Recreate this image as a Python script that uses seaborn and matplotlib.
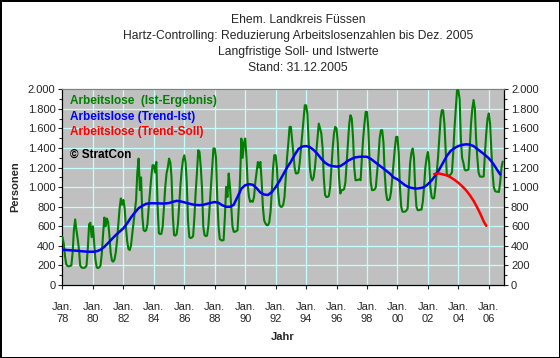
import pandas as pd
import matplotlib
matplotlib.use('Agg')
import matplotlib.pyplot as plt
from matplotlib.ticker import FuncFormatter, MultipleLocator
import seaborn as sns

# Monatswerte Arbeitslose (Ist-Ergebnis), Jan. 1978 bis Dez. 2006, eine Zeile pro Jahr
ist_werte = [
    490, 420, 300, 210, 195, 190, 195, 200, 330, 560, 670, 560,
    470, 360, 200, 180, 175, 175, 180, 200, 380, 620, 636, 490,
    600, 420, 260, 180, 173, 180, 200, 320, 520, 690, 600, 680,
    640, 500, 330, 250, 238, 260, 330, 450, 620, 780, 884, 820,
    870, 780, 600, 450, 370, 357, 400, 520, 650, 760, 867, 1150,
    1292, 970, 1100, 700, 560, 550, 560, 620, 800, 950, 1100, 1224,
    1224, 1150, 1258, 800, 530, 520, 525, 600, 800, 1000, 1140, 1200,
    1292, 1250, 1100, 700, 510, 505, 520, 620, 820, 1020, 1180, 1280,
    1326, 1250, 1050, 650, 490, 480, 485, 500, 700, 950, 1150, 1377,
    1360, 1200, 1000, 600, 510, 500, 505, 600, 800, 1000, 1200, 1395,
    1395, 1300, 900, 600, 470, 459, 455, 460, 700, 1003, 900, 1139,
    1000, 800, 600, 544, 544, 550, 560, 800, 1100, 1497, 1300, 1450,
    1497, 1300, 1037, 900, 850, 860, 850, 900, 1050, 1150, 1258, 1200,
    1258, 1050, 800, 660, 630, 612, 612, 640, 750, 950, 1200, 1327,
    1327, 1200, 950, 820, 800, 800, 820, 900, 1100, 1300, 1450, 1616,
    1616, 1480, 1350, 1200, 1140, 1140, 1150, 1250, 1400, 1550, 1700, 1837,
    1837, 1750, 1500, 1200, 1100, 1070, 1100, 1200, 1350, 1500, 1650, 1600,
    1550, 1400, 1100, 920, 900, 900, 910, 1000, 1200, 1400, 1550, 1616,
    1600, 1450, 1100, 935, 970, 970, 980, 1050, 1250, 1450, 1650, 1735,
    1700, 1500, 1200, 1071, 1071, 1075, 1080, 1071, 1300, 1500, 1650, 1769,
    1769, 1600, 1300, 1050, 970, 970, 975, 1000, 1150, 1300, 1500, 1582,
    1582, 1450, 1150, 950, 870, 867, 880, 950, 1100, 1250, 1400, 1514,
    1514, 1350, 1000, 800, 750, 748, 750, 760, 780, 1000, 1250, 1350,
    1395, 1300, 1000, 800, 765, 765, 770, 770, 850, 1000, 1200, 1300,
    1360, 1250, 1000, 900, 884, 890, 1000, 1150, 1300, 1500, 1700, 1786,
    1786, 1650, 1400, 1122, 1120, 1120, 1130, 1150, 1350, 1600, 1800, 1990,
    1990, 1900, 1500, 1300, 1250, 1180, 1170, 1176, 1180, 1400, 1650, 1800,
    1891, 1800, 1500, 1300, 1150, 1110, 1107, 1107, 1110, 1350, 1550, 1700,
    1754, 1650, 1400, 1150, 1000, 960, 954, 954, 950, 1050, 1200, 1261,
]

# Trend-Ist, Quartalswerte (Jan., Apr., Jul., Okt.) 1978 bis 2006
trend_ist = [
    360, 358, 355, 352,
    350, 345, 342, 340,
    340, 345, 360, 390,
    430, 470, 510, 545,
    580, 630, 690, 740,
    785, 810, 830, 835,
    835, 835, 833, 833,
    838, 850, 860, 855,
    845, 835, 825, 818,
    816, 820, 830, 840,
    848, 840, 815, 800,
    800, 820, 900, 985,
    1020, 1030, 1025, 990,
    945, 925, 920, 950,
    1000, 1060, 1130, 1200,
    1260, 1330, 1390, 1415,
    1420, 1410, 1380, 1340,
    1290, 1250, 1225, 1215,
    1210, 1215, 1240, 1270,
    1290, 1305, 1310, 1312,
    1310, 1290, 1260, 1230,
    1200, 1170, 1140, 1100,
    1080, 1050, 1020, 1000,
    990, 985, 990, 1000,
    1030, 1070, 1120, 1180,
    1250, 1320, 1370, 1400,
    1420, 1432, 1438, 1435,
    1420, 1390, 1360, 1330,
    1295, 1250, 1190, 1130,
]

# Trend-Soll ab Mitte 2002
soll_datum = ['2002-06-01', '2002-10-01', '2003-01-01', '2003-04-01', '2003-07-01',
              '2003-10-01', '2004-01-01', '2004-04-01', '2004-07-01', '2004-10-01',
              '2005-01-01', '2005-04-01', '2005-07-01', '2005-09-01', '2005-11-01']
trend_soll = [1134, 1140, 1130, 1120, 1100, 1075, 1045, 1010, 970, 920,
              860, 790, 710, 650, 605]

titel = ['Ehem. Landkreis Füssen',
         'Hartz-Controlling: Reduzierung Arbeitslosenzahlen bis Dez. 2005',
         'Langfristige Soll- und Istwerte',
         'Stand: 31.12.2005']

sns.set_style('white')
plt.rcParams['font.family'] = ['Liberation Sans', 'DejaVu Sans']
plt.rcParams['font.size'] = 8

monate = pd.date_range('1978-01-01', periods=len(ist_werte), freq='MS')
quartale = pd.date_range('1978-01-01', periods=len(trend_ist), freq='QS-JAN')
soll_monate = pd.to_datetime(soll_datum)

fig = plt.figure(figsize=(5.6, 3.58), dpi=100)
fig.patch.set_facecolor('white')
fig.patch.set_edgecolor('black')
fig.patch.set_linewidth(2)

ax = fig.add_axes([0.1116, 0.2039, 0.7884, 0.5466])
ax.set_facecolor('#c0c0c0')

sns.lineplot(x=monate, y=ist_werte, ax=ax, color='#008000', lw=1.5, zorder=3)
sns.lineplot(x=quartale, y=trend_ist, ax=ax, color='#0000ff', lw=1.8, zorder=4)
sns.lineplot(x=soll_monate, y=trend_soll, ax=ax, color='#ff0000', lw=1.8, zorder=5)

# Achsen
ax.set_xlim(pd.Timestamp('1978-01-01'), pd.Timestamp('2007-01-01'))
ax.set_ylim(0, 2000)
xticks = pd.date_range('1978-01-01', '2006-01-01', freq='2YS')
ax.set_xticks(xticks)
ax.set_xticklabels([f'Jan.\n{d:%y}' for d in xticks], linespacing=1.35)
ax.yaxis.set_major_locator(MultipleLocator(200))
ax.yaxis.set_minor_locator(MultipleLocator(100))
ax.yaxis.set_major_formatter(FuncFormatter(lambda v, p: f'{int(v):,}'.replace(',', '.')))

ax.grid(True, which='major', color='#c4ffff', lw=0.9, zorder=0)
ax.set_axisbelow(True)
ax.tick_params(axis='y', which='major', direction='out', length=3, width=0.8,
               left=True, right=True, labelleft=True, labelright=True, pad=2, labelsize=8)
ax.tick_params(axis='y', which='minor', direction='out', length=2, width=0.8,
               left=True, right=True)
ax.tick_params(axis='x', which='major', direction='out', length=3, width=0.8,
               bottom=True, pad=9, labelsize=8)

for side in ['left', 'bottom', 'right']:
    ax.spines[side].set_color('black')
    ax.spines[side].set_linewidth(0.9)
ax.spines['top'].set_color('#808080')
ax.spines['top'].set_linewidth(0.9)
ax.set_xlabel('')
ax.set_ylabel('')

# Titel
for i, zeile in enumerate(titel):
    fig.text(0.532, 1 - (20 + 16 * i) / 358, zeile, ha='center', va='center', fontsize=8.7)

fig.text(15 / 560, 1 - 187 / 358, 'Personen', rotation=90, ha='center', va='center',
         fontsize=8, fontweight='bold')
fig.text(283 / 560, 1 - 337 / 358, 'Jahr', ha='center', va='center',
         fontsize=8, fontweight='bold')

# Legende als Text im Diagramm
legende = [('Arbeitslose  (Ist-Ergebnis)', '#008000', 101),
           ('Arbeitslose (Trend-Ist)', '#0000ff', 117),
           ('Arbeitslose (Trend-Soll)', '#ff0000', 132),
           ('© StratCon', 'black', 155)]
for text, farbe, ypix in legende:
    fig.text(70 / 560, 1 - ypix / 358, text, color=farbe, ha='left', va='center',
             fontsize=8.5, fontweight='bold')

fig.savefig('out.png', dpi=100, facecolor='white', edgecolor='black')
